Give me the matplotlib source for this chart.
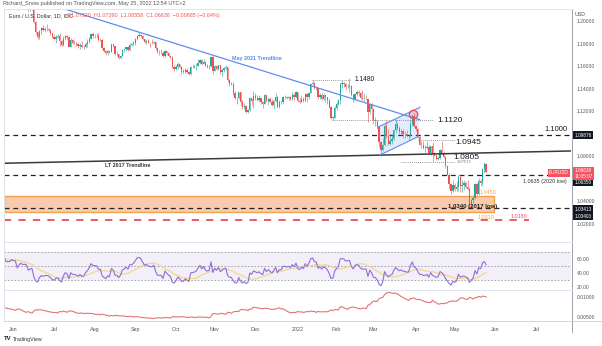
import numpy as np
import pandas as pd
import matplotlib
matplotlib.use("Agg")
import matplotlib.pyplot as plt
from matplotlib.lines import Line2D
from matplotlib.patches import Rectangle, Polygon

plt.rcParams["font.family"] = ["Liberation Sans", "DejaVu Sans"]

# ---- EUR/USD daily bars, 2021-04-01 .. 2022-05-25 (weekdays) ----
start = "2021-04-01"
prev_close = 1.1730
close = [
    1.1778, 1.1762, 1.1813, 1.1873, 1.1871, 1.1915, 1.1899, 1.1911, 1.1946, 1.1980, 1.1966, 1.1983, 1.2036, 1.2035, 1.2035, 1.2012, 1.2097, 1.2086, 1.2090, 1.2127, 1.2126, 1.2020,
    1.2062, 1.2013, 1.2004, 1.2066, 1.2164, 1.2130, 1.2150, 1.2073, 1.2081, 1.2144, 1.2154, 1.2223, 1.2174, 1.2226, 1.2180, 1.2214, 1.2250, 1.2192, 1.2194, 1.2193, 1.2227,
    1.2213, 1.2212, 1.2126, 1.2166, 1.2192, 1.2174, 1.2180, 1.2173, 1.2107, 1.2119, 1.2125, 1.1996, 1.1906, 1.1864, 1.1916, 1.1941, 1.1926, 1.1934, 1.1936, 1.1925, 1.1897, 1.1858,
    1.1848, 1.1866, 1.1867, 1.1823, 1.1791, 1.1843, 1.1875, 1.1860, 1.1776, 1.1838, 1.1812, 1.1806, 1.1801, 1.1781, 1.1795, 1.1771, 1.1770, 1.1801, 1.1818, 1.1844, 1.1889, 1.1869,
    1.1868, 1.1867, 1.1835, 1.1834, 1.1762, 1.1737, 1.1719, 1.1739, 1.1728, 1.1796, 1.1778, 1.1711, 1.1711, 1.1676, 1.1697, 1.1745, 1.1755, 1.1772, 1.1751, 1.1795, 1.1798, 1.1808,
    1.1840, 1.1875, 1.1880, 1.1870, 1.1842, 1.1817, 1.1824, 1.1813, 1.1807, 1.1805, 1.1817, 1.1766, 1.1725, 1.1726, 1.1724, 1.1690, 1.1739, 1.1719, 1.1696, 1.1683, 1.1597, 1.1578,
    1.1595, 1.1620, 1.1597, 1.1555, 1.1554, 1.1571, 1.1552, 1.1529, 1.1594, 1.1596, 1.1600, 1.1607, 1.1631, 1.1654, 1.1623, 1.1643, 1.1608, 1.1598, 1.1605, 1.1682, 1.1558,
    1.1606, 1.1579, 1.1612, 1.1553, 1.1569, 1.1587, 1.1592, 1.1479, 1.1446, 1.1444, 1.1368, 1.1320, 1.1318, 1.1370, 1.1288, 1.1236, 1.1250, 1.1198, 1.1209, 1.1318, 1.1291, 1.1338,
    1.1322, 1.1304, 1.1316, 1.1285, 1.1266, 1.1343, 1.1290, 1.1315, 1.1286, 1.1258, 1.1290, 1.1330, 1.1240, 1.1283, 1.1282, 1.1329, 1.1328, 1.1319, 1.1329, 1.1310, 1.1349, 1.1325, 1.1370,
    1.1297, 1.1287, 1.1313, 1.1296, 1.1359, 1.1325, 1.1367, 1.1441, 1.1455, 1.1412, 1.1409, 1.1325, 1.1343, 1.1312, 1.1343, 1.1326, 1.1302, 1.1242, 1.1144, 1.1146, 1.1233,
    1.1271, 1.1302, 1.1441, 1.1450, 1.1441, 1.1415, 1.1421, 1.1425, 1.1349, 1.1307, 1.1357, 1.1374, 1.1361, 1.1322, 1.1307, 1.1309, 1.1308, 1.1194, 1.1270, 1.1219,
    1.1125, 1.1119, 1.1063, 1.0929, 1.0856, 1.0903, 1.1075, 1.0985, 1.0912, 1.0942, 1.0955, 1.1035, 1.1093, 1.1050, 1.1016, 1.1031, 1.1002, 1.0998, 1.0983, 1.0984, 1.1088, 1.1158, 1.1067,
    1.1046, 1.0972, 1.0903, 1.0901, 1.0877, 1.0876, 1.0888, 1.0829, 1.0890, 1.0826, 1.0808, 1.0780, 1.0789, 1.0854, 1.0835, 1.0796, 1.0716, 1.0637, 1.0557, 1.0497, 1.0545,
    1.0508, 1.0526, 1.0621, 1.0542, 1.0549, 1.0560, 1.0530, 1.0515, 1.0380, 1.0411, 1.0435, 1.0552, 1.0465, 1.0584, 1.0563, 1.0691, 1.0732, 1.06638,
]
high = [
    1.1790, 1.1786, 1.1820, 1.1880, 1.1899, 1.1926, 1.1928, 1.1918, 1.1952, 1.1990, 1.1995, 1.1994, 1.2048, 1.2080, 1.2045, 1.2070, 1.2100, 1.2116, 1.2100, 1.2135, 1.2150, 1.2130,
    1.2085, 1.2077, 1.2035, 1.2075, 1.2173, 1.2180, 1.2185, 1.2160, 1.2098, 1.2150, 1.2165, 1.2245, 1.2230, 1.2235, 1.2245, 1.2225, 1.2266, 1.2260, 1.2210, 1.2200, 1.2235,
    1.2255, 1.2225, 1.2215, 1.2185, 1.2195, 1.2195, 1.2195, 1.2190, 1.2180, 1.2125, 1.2140, 1.2130, 1.2000, 1.1910, 1.1920, 1.1955, 1.1970, 1.1955, 1.1975, 1.1945, 1.1930, 1.1900,
    1.1885, 1.1880, 1.1885, 1.1895, 1.1835, 1.1868, 1.1880, 1.1880, 1.1870, 1.1850, 1.1848, 1.1835, 1.1820, 1.1805, 1.1810, 1.1830, 1.1795, 1.1820, 1.1840, 1.1860, 1.1895, 1.1909,
    1.1892, 1.1895, 1.1900, 1.1850, 1.1840, 1.1770, 1.1745, 1.1745, 1.1750, 1.1800, 1.1800, 1.1780, 1.1735, 1.1715, 1.1705, 1.1755, 1.1765, 1.1775, 1.1780, 1.1805, 1.1810, 1.1830,
    1.1857, 1.1880, 1.1909, 1.1885, 1.1880, 1.1845, 1.1845, 1.1845, 1.1815, 1.1845, 1.1830, 1.1820, 1.1775, 1.1745, 1.1755, 1.1735, 1.1750, 1.1740, 1.1730, 1.1700, 1.1690, 1.1610,
    1.1610, 1.1640, 1.1625, 1.1605, 1.1575, 1.1590, 1.1585, 1.1560, 1.1600, 1.1625, 1.1615, 1.1625, 1.1665, 1.1668, 1.1665, 1.1665, 1.1645, 1.1625, 1.1615, 1.1692, 1.1690,
    1.1616, 1.1615, 1.1615, 1.1615, 1.1575, 1.1595, 1.1610, 1.1595, 1.1485, 1.1465, 1.1460, 1.1385, 1.1330, 1.1375, 1.1375, 1.1305, 1.1275, 1.1260, 1.1225, 1.1330, 1.1320, 1.1383,
    1.1360, 1.1350, 1.1345, 1.1320, 1.1295, 1.1355, 1.1350, 1.1325, 1.1325, 1.1310, 1.1300, 1.1360, 1.1340, 1.1305, 1.1305, 1.1335, 1.1345, 1.1335, 1.1335, 1.1335, 1.1370, 1.1360, 1.1385,
    1.1375, 1.1320, 1.1345, 1.1330, 1.1365, 1.1365, 1.1370, 1.1450, 1.1482, 1.1465, 1.1425, 1.1410, 1.1360, 1.1370, 1.1365, 1.1345, 1.1330, 1.1315, 1.1245, 1.1160, 1.1245,
    1.1280, 1.1315, 1.1450, 1.1483, 1.1460, 1.1450, 1.1445, 1.1495, 1.1435, 1.1365, 1.1365, 1.1395, 1.1390, 1.1375, 1.1395, 1.1365, 1.1345, 1.1310, 1.1275, 1.1275,
    1.1235, 1.1150, 1.1125, 1.1070, 1.0935, 1.0960, 1.1100, 1.1120, 1.1040, 1.1010, 1.1000, 1.1045, 1.1137, 1.1110, 1.1070, 1.1040, 1.1040, 1.1025, 1.1035, 1.1000, 1.1135, 1.1170, 1.1185,
    1.1075, 1.1055, 1.0995, 1.0935, 1.0940, 1.0900, 1.0940, 1.0900, 1.0895, 1.0925, 1.0840, 1.0820, 1.0805, 1.0865, 1.0935, 1.0850, 1.0805, 1.0725, 1.0655, 1.0565, 1.0595,
    1.0565, 1.0580, 1.0635, 1.0640, 1.0590, 1.0590, 1.0580, 1.0590, 1.0525, 1.0425, 1.0445, 1.0565, 1.0565, 1.0605, 1.0600, 1.0697, 1.0750, 1.07390,
]
low = [
    1.1715, 1.1750, 1.1745, 1.1800, 1.1850, 1.1865, 1.1870, 1.1870, 1.1885, 1.1945, 1.1955, 1.1955, 1.1975, 1.2020, 1.2000, 1.1995, 1.2005, 1.2070, 1.2060, 1.2055, 1.2100, 1.2015,
    1.2000, 1.1985, 1.1985, 1.2000, 1.2030, 1.2120, 1.2115, 1.2060, 1.2050, 1.2075, 1.2115, 1.2150, 1.2150, 1.2160, 1.2170, 1.2160, 1.2200, 1.2185, 1.2165, 1.2135, 1.2180,
    1.2200, 1.2185, 1.2105, 1.2105, 1.2155, 1.2165, 1.2165, 1.2145, 1.2095, 1.2095, 1.2105, 1.1990, 1.1892, 1.1847, 1.1848, 1.1890, 1.1915, 1.1910, 1.1915, 1.1905, 1.1880, 1.1850,
    1.1835, 1.1807, 1.1850, 1.1780, 1.1782, 1.1780, 1.1835, 1.1840, 1.1772, 1.1770, 1.1800, 1.1800, 1.1785, 1.1760, 1.1752, 1.1760, 1.1755, 1.1760, 1.1775, 1.1805, 1.1840, 1.1855,
    1.1855, 1.1855, 1.1825, 1.1825, 1.1755, 1.1730, 1.1705, 1.1705, 1.1720, 1.1725, 1.1770, 1.1700, 1.1695, 1.1665, 1.1664, 1.1690, 1.1730, 1.1735, 1.1735, 1.1735, 1.1780, 1.1790,
    1.1795, 1.1835, 1.1860, 1.1860, 1.1835, 1.1805, 1.1800, 1.1810, 1.1770, 1.1800, 1.1800, 1.1750, 1.1720, 1.1700, 1.1715, 1.1685, 1.1685, 1.1705, 1.1680, 1.1670, 1.1590, 1.1563,
    1.1570, 1.1580, 1.1590, 1.1530, 1.1545, 1.1545, 1.1540, 1.1524, 1.1525, 1.1585, 1.1585, 1.1570, 1.1600, 1.1620, 1.1615, 1.1620, 1.1600, 1.1585, 1.1580, 1.1595, 1.1535,
    1.1560, 1.1570, 1.1570, 1.1530, 1.1515, 1.1555, 1.1570, 1.1465, 1.1430, 1.1435, 1.1350, 1.1307, 1.1265, 1.1310, 1.1250, 1.1225, 1.1225, 1.1186, 1.1190, 1.1205, 1.1260, 1.1235,
    1.1300, 1.1290, 1.1280, 1.1270, 1.1227, 1.1265, 1.1280, 1.1260, 1.1280, 1.1250, 1.1222, 1.1285, 1.1235, 1.1230, 1.1265, 1.1265, 1.1310, 1.1310, 1.1305, 1.1300, 1.1300, 1.1300, 1.1320,
    1.1280, 1.1272, 1.1285, 1.1285, 1.1290, 1.1285, 1.1315, 1.1360, 1.1435, 1.1400, 1.1395, 1.1315, 1.1310, 1.1305, 1.1305, 1.1280, 1.1265, 1.1230, 1.1137, 1.1121, 1.1140,
    1.1215, 1.1255, 1.1270, 1.1410, 1.1420, 1.1400, 1.1405, 1.1375, 1.1340, 1.1280, 1.1305, 1.1340, 1.1340, 1.1315, 1.1300, 1.1290, 1.1300, 1.1106, 1.1180, 1.1120,
    1.1090, 1.1070, 1.1040, 1.0885, 1.0806, 1.0850, 1.0895, 1.0960, 1.0900, 1.0905, 1.0910, 1.0945, 1.1010, 1.1035, 1.1000, 1.0990, 1.0965, 1.0965, 1.0970, 1.0945, 1.0975, 1.1075, 1.1060,
    1.1030, 1.0965, 1.0900, 1.0873, 1.0870, 1.0840, 1.0870, 1.0820, 1.0810, 1.0757, 1.0800, 1.0765, 1.0770, 1.0780, 1.0825, 1.0785, 1.0697, 1.0635, 1.0515, 1.0471, 1.0485,
    1.0490, 1.0495, 1.0495, 1.0480, 1.0485, 1.0505, 1.0520, 1.0500, 1.0355, 1.0349, 1.0385, 1.0420, 1.0460, 1.0460, 1.0540, 1.0550, 1.0655, 1.06558,
]
assert len(close) == len(high) == len(low), (len(close), len(high), len(low))

# drawn levels / annotations (prices)
level_1100 = 1.09876
level_2020_low = 1.0635
level_2017_low = 1.0340
level_red = 1.0235
zone_top, zone_bottom = 1.0450, 1.0310
dotted_levels = [(1.1480, 161.5, 182.5), (1.1120, 172.5, 227.0), (1.0945, 219.0, 239.0), (1.0754, 210.0, 239.0)]
may21_trend = ([25.0, 220.0], [1.2125, 1.1127])
lt2017_trend = ([-5.2, 302.0], [1.0740, 1.0849])
channel = [(197.5, 1.1062), (220.2, 1.1237), (219.1, 1.0976), (198.5, 1.0813)]
circle_pt = (216.6, 1.1178)

W, H = 602, 346
def rect(l, t, r, b):
    return [l / W, 1 - b / H, (r - l) / W, (b - t) / H]

all_dates = pd.bdate_range(start, "2022-07-29")
origin = all_dates.get_loc(pd.Timestamp("2021-06-01"))
x = np.arange(len(close)) - origin
c = np.array(close); h = np.array(high); l = np.array(low)
o = np.concatenate([[prev_close], c[:-1]])

# indicators: RSI(14) + SMA(14) of RSI, ATR(14)
s = pd.Series(c)
d = s.diff()
up = d.clip(lower=0).ewm(alpha=1 / 14, adjust=False).mean()
dn = (-d.clip(upper=0)).ewm(alpha=1 / 14, adjust=False).mean()
rsi = 100 - 100 / (1 + up / dn)
rsi_ma = rsi.rolling(14).mean()
pc = pd.Series(o)
tr = pd.concat([pd.Series(h - l), (pd.Series(h) - pc).abs(), (pd.Series(l) - pc).abs()], axis=1).max(axis=1)
atr = tr.ewm(alpha=1 / 14, adjust=False).mean()

XL = (-5.15, 302.0)
fig = plt.figure(figsize=(W / 100, H / 100), dpi=100)
ax = fig.add_axes(rect(4, 9, 571, 242))
ax_r = fig.add_axes(rect(4, 242, 571, 289.5))
ax_a = fig.add_axes(rect(4, 289.5, 571, 321))
for a in (ax, ax_r, ax_a):
    a.set_xlim(*XL)
    for sp in a.spines.values():
        sp.set_visible(False)
    a.set_xticks([])
    a.yaxis.tick_right()
    a.tick_params(axis="y", length=0, pad=4, labelsize=3.6, labelcolor="#555555")
ax.set_ylim(1.0040, 1.2111)
ax_r.set_ylim(16.9, 84.7)
ax_a.set_ylim(0.00389, 0.01201)

# candles
UP, DN = "#26a69a", "#ef5350"
col = np.where(c >= o, UP, DN)
ax.vlines(x, l, h, colors=col, lw=0.55, alpha=0.75, zorder=3)
body = np.where(np.abs(c - o) < 0.0003, 0.0003, c - o)
ax.bar(x, body, bottom=o, width=0.72, color=col, lw=0, zorder=4)

# zone, levels, trendlines
ax.add_patch(Rectangle((XL[0], zone_bottom), 260.3 - XL[0], zone_top - zone_bottom,
                       facecolor="#f8cbad", edgecolor="#f5a04f", lw=1.0, zorder=1))
for lev in (level_1100, level_2020_low, level_2017_low):
    ax.hlines(lev, XL[0], XL[1], colors="#222222", lw=0.9, linestyles=(0, (4, 3)), zorder=2)
ax.hlines(level_red, XL[0], 279.0, colors="#ef4a5a", lw=1.3, linestyles=(0, (4, 4)), zorder=2)
for lev, x0, x1 in dotted_levels:
    ax.hlines(lev, x0, x1, colors="#777777", lw=0.6, linestyles=(0, (1, 1.5)), zorder=2)
ax.plot(*may21_trend, color="#5b8def", lw=0.9, zorder=5)
ax.plot(*lt2017_trend, color="#3a3a3a", lw=1.1, zorder=5)
ax.add_patch(Polygon(channel, closed=True, facecolor="#2962ff", alpha=0.12, lw=0, zorder=2))
ax.plot([channel[0][0], channel[1][0]], [channel[0][1], channel[1][1]], color="#5b8def", lw=0.8, zorder=5)
ax.plot([channel[3][0], channel[2][0]], [channel[3][1], channel[2][1]], color="#5b8def", lw=0.8, zorder=5)
ax.plot(*circle_pt, "o", ms=6, mfc=(0.95, 0.3, 0.3, 0.25), mec="#ef4a5a", mew=0.9, zorder=6)

# labels on chart
ax.text(118.4, 1.1667, "May 2021 Trendline", color="#5b8def", fontsize=3.9, fontweight="bold", va="center")
ax.text(49.6, 1.0724, "LT 2017 Trendline", color="#333333", fontsize=3.9, fontweight="bold", va="center")
ax.text(185.0, 1.1480, "1.1480", color="#131722", fontsize=4.8, va="center")
for txt, xx, yy in [("1.1120", 229.4, 1.1120), ("1.0945", 239.2, 1.0922), ("1.0805", 238.0, 1.0792)]:
    ax.text(xx, yy, txt, color="#131722", fontsize=6.0, va="center")
ax.text(240.0, 1.0752, "1.07573", color="#777777", fontsize=3.0, va="center")
ax.text(299.8, 1.1040, "1.1000", color="#131722", fontsize=5.4, va="center", ha="right")
ax.text(299.8, 1.0582, "1.0635 (2020 low)", color="#333333", fontsize=3.9, va="center", ha="right")
ax.text(235.4, 1.0336, "1.0340 (2017 low)", color="#222222", fontsize=4.3, fontweight="bold", va="bottom")
ax.text(252.2, 1.0478, "1.0450", color="#f5a04f", fontsize=3.9, va="center")
ax.text(251.6, 1.0262, "1.0310", color="#f5a04f", fontsize=3.9, va="center")
ax.text(269.0, 1.0271, "1.0180", color="#ef4a5a", fontsize=3.9, va="center")

# price axis
price_ticks = [1.02, 1.04, 1.08, 1.12, 1.14, 1.16, 1.18, 1.20]
ax.set_yticks(price_ticks)
ax.set_yticklabels([f"{v:.5f}" for v in price_ticks])
tr_y = ax.get_yaxis_transform()
box = lambda fc: dict(boxstyle="square,pad=0.3", fc=fc, ec="none")
for val, yy, fc in [("1.09876", level_1100, "#131722"), ("1.06350", 1.0573, "#131722"),
                    ("1.03413", 1.0333, "#131722"), ("1.03403", 1.0271, "#131722")]:
    ax.text(1.006, yy, val, transform=tr_y, fontsize=3.4, color="white", va="center", ha="left", bbox=box(fc), zorder=10)
ax.text(1.006, 1.0650, "1.06638\n11:05:07", transform=tr_y, fontsize=3.4, color="white", va="center",
        ha="left", linespacing=1.1, bbox=box("#f7525f"), zorder=10)
ax.text(0.996, 1.0656, "EURUSD", transform=tr_y, fontsize=3.4, color="white", va="center", ha="right",
        bbox=box("#f7525f"), zorder=10)

# RSI pane
xs = x >= XL[0] - 1
ax_r.axhspan(30, 70, color="#7e57c2", alpha=0.09, lw=0)
for lv in (70, 50, 30):
    ax_r.axhline(lv, color="#9598a1", lw=0.6, ls=(0, (2, 2)))
ax_r.plot(x[xs], rsi_ma[xs], color="#f5d68a", lw=0.9)
ax_r.plot(x[xs], rsi[xs], color="#8e6fd8", lw=0.8)
ax_r.set_yticks([20, 40, 60])
ax_r.set_yticklabels(["20.00", "40.00", "60.00"])

# ATR pane
ax_a.plot(x[xs], atr[xs], color="#e57373", lw=0.8)
ax_a.set_yticks([0.005, 0.01])
ax_a.set_yticklabels(["0.00500", "0.01000"])

# month labels
ticks, labels = [], []
for m in pd.date_range("2021-06-01", "2022-07-01", freq="MS"):
    ticks.append(all_dates.searchsorted(m) - origin)
    labels.append("2022" if m.month == 1 else m.strftime("%b"))
ax_a.set_xticks(ticks)
ax_a.set_xticklabels(labels)
ax_a.tick_params(axis="x", length=0, pad=4, labelsize=3.9, labelcolor="#555555")

# frame lines
for (x0, y0, x1, y1, cc) in [(571.5, 9, 571.5, 332, "#9aa0aa"), (4, 9, 4, 321, "#e0e3eb"),
                             (4, 9, 571.5, 9, "#e0e3eb"), (4, 242, 571.5, 242, "#e0e3eb"),
                             (4, 289.5, 571.5, 289.5, "#e0e3eb"), (4, 321, 602, 321, "#d1d4dc")]:
    fig.add_artist(Line2D([x0 / W, x1 / W], [1 - y0 / H, 1 - y1 / H], color=cc, lw=0.7))

# header texts
fig.text(3 / W, 1 - 4 / H, "Richard_Snow published on TradingView.com, May 25, 2022 12:54 UTC+2",
         fontsize=4.0, color="#555555", va="center")
fig.text(9 / W, 1 - 16 / H, "Euro / U.S. Dollar, 1D, IDC", fontsize=3.9, color="#333333", va="center")
fig.text(67 / W, 1 - 16 / H, "O1.07320  H1.07390  L1.06558  C1.06638  \u22120.00685 (\u22120.64%)",
         fontsize=3.9, color="#ef5350", va="center")
fig.text(575 / W, 1 - 15 / H, "USD", fontsize=3.8, color="#555555", va="center")
fig.text(4 / W, 1 - 339 / H, "TV", fontsize=4.2, fontweight="bold", color="#131722", va="center")
fig.text(13 / W, 1 - 339 / H, "TradingView", fontsize=3.9, color="#333333", va="center")

fig.savefig("out.png", dpi=100)
